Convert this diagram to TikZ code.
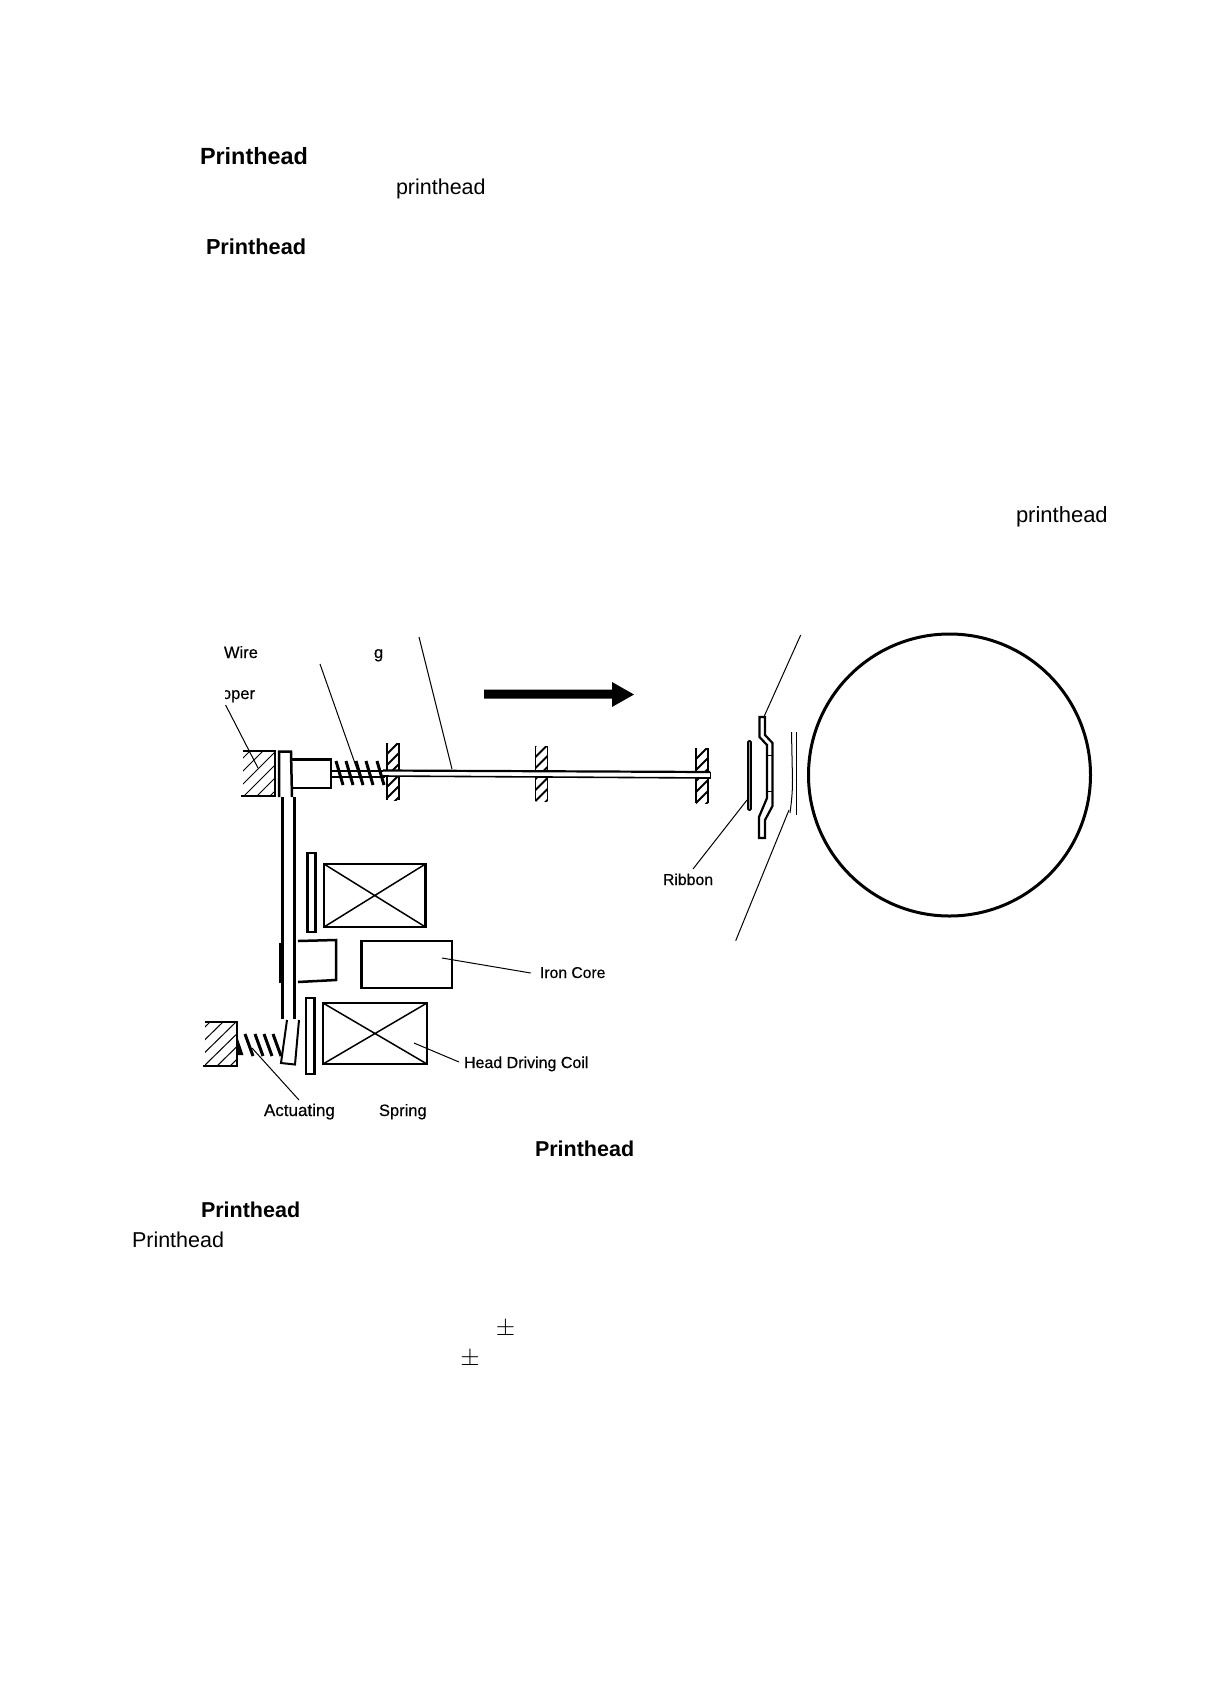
\documentclass[tikz,border=0pt]{standalone}
\usepackage{fontspec}
\setmainfont{Liberation Sans}
\newfontfamily\labfont[FakeBold=0.4]{Liberation Sans}
\tikzset{
  txt/.style={anchor=base west,inner sep=0pt,outer sep=0pt,font=\fontsize{21.5}{24}\selectfont},
  boldtxt/.style={txt,font=\fontsize{21.7}{24}\selectfont\bfseries},
  lab/.style={anchor=base west,inner sep=0pt,outer sep=0pt,font=\labfont\fontsize{16.5}{20}\selectfont},
  leader/.style={line width=1pt},
  thick part/.style={line width=2.5pt,line join=miter},
  thin part/.style={line width=1.5pt},
  hatch line/.style={line width=1pt},
}
\newcommand{\guidebar}[4]{% x1,x2,y1,y2
  \begin{scope}
    \clip (#1,#3) rectangle (#2,#4);
    \foreach \k in {-2,...,7} {
      \draw[line width=1.8pt] (#1-2,#3+\k*11+13) -- (#2+2,#3+\k*11-3);
    }
  \end{scope}
  \draw[line width=1.8pt] (#1,#3) -- (#1,#4) (#2,#3) -- (#2,#4);
}
\begin{document}
\begin{tikzpicture}[x=1pt,y=-1pt]
\useasboundingbox (0,0) rectangle (1210,1698);
\fill[white] (0,0) rectangle (1210,1698);

% page texts
\node[boldtxt,font=\fontsize{23.4}{26}\selectfont\bfseries] (t1) at (200,164) {Printhead};
\node[txt] (t2) at (396,194.5) {printhead};
\node[boldtxt] (t3) at (206,254) {Printhead};
\node[txt,font=\fontsize{22}{24}\selectfont] (t4) at (1016,522.5) {printhead};
\node[boldtxt,font=\fontsize{21.5}{24}\selectfont\bfseries] (t5) at (535,1156) {Printhead};
\node[boldtxt,font=\fontsize{21.5}{24}\selectfont\bfseries] (t6) at (201,1217) {Printhead};
\node[txt] (t7) at (132,1247) {Printhead};
\node[inner sep=0pt,font=\fontsize{24.88}{26}\selectfont] (pm1) at (505.5,1329) {$\pm$};
\node[inner sep=0pt,font=\fontsize{24.88}{26}\selectfont] (pm2) at (470,1359) {$\pm$};

% diagram labels
\node[lab] (wire) at (224,658) {Wire};
\node[lab] (gg) at (374,658) {g};
\begin{scope}
  \clip (225,680) rectangle (262,710);
  \node[lab] (oper) at (222,699) {oper};
\end{scope}
\node[lab,font=\labfont\fontsize{15.7}{20}\selectfont] (iron) at (540,978) {Iron Core};
\node[lab,font=\labfont\fontsize{16}{20}\selectfont] (coil) at (464,1068) {Head Driving Coil};
\node[lab,font=\labfont\fontsize{17}{20}\selectfont] (act) at (264,1116) {Actuating};
\node[lab] (spr) at (379,1116) {Spring};
\node[lab,font=\labfont\fontsize{15.8}{20}\selectfont] (rib) at (663,885) {Ribbon};

% motion arrow
\fill (484,689.5) -- (612,689.5) -- (612,682) -- (634,694.5) -- (612,707) -- (612,698.5) -- (484,698.5) -- cycle;

% upper stopper block
\begin{scope}
  \clip (243,751) rectangle (275,796);
  \foreach \k in {0,...,6} {
    \draw[hatch line] (205+\k*13,796) -- (250+\k*13,751);
  }
\end{scope}
\draw[thick part] (243,751) -- (275,751) -- (275,796) -- (241,796);

% armature head and hammer base
\draw[thick part] (279,797) -- (279,751.5) -- (291,751.5) -- (292,797);
\draw[thick part] (292,759.5) -- (331,759.5) -- (331,788) -- (292,788);

% guides
\guidebar{387}{399}{743}{800}
\guidebar{535.5}{547.5}{746}{801}
\guidebar{696}{708}{748}{803}

% wire spring
\foreach \xa in {336,346,356,366,377} {
  \draw[line width=3pt] (\xa,761) -- (\xa+7,785);
}
\draw[line width=1.6pt] (331,771) -- (385,771);
\draw[line width=1.6pt] (331,777) -- (385,777);

% wire
\fill[white] (383,771) -- (710,773) -- (710,778) -- (383,776) -- cycle;
\draw[line width=2.2pt] (383,770.5) -- (710,772);
\draw[line width=1.6pt] (383,776) -- (710,778);
\draw[line width=1.6pt] (710.5,771.5) -- (710.5,778.5);

% vertical arm
\draw[line width=3.4pt] (282.5,797) -- (282.5,1019);
\draw[line width=3.4pt] (294.5,797) -- (294.5,1019);
\fill (279,943) rectangle (281,983);
\draw[line width=2pt] (287,1020) -- (281,1063) -- (295,1064.5) -- (299,1020);

% armature tab
\draw[thick part] (298,941) -- (336,940) -- (336,980) -- (298,982);

% coils
\draw[thick part] (307.5,853) rectangle (315.5,932);
\draw[thick part] (324,864) rectangle (425.5,927);
\draw[thin part] (324,864) -- (425.5,927) (324,927) -- (425.5,864);
\draw[thick part] (361.5,941) rectangle (452,988);
\draw[thick part] (306,998) rectangle (314.5,1074);
\draw[thick part] (323,1003) rectangle (427,1064);
\draw[thin part] (323,1003) -- (427,1064) (323,1064) -- (427,1003);

% lower stopper
\begin{scope}
  \clip (205,1022) rectangle (237,1066);
  \foreach \k in {0,...,6} {
    \draw[hatch line] (165+\k*13,1066) -- (210+\k*13,1022);
  }
\end{scope}
\draw[thick part] (205,1022) -- (237,1022) -- (237,1066) -- (203,1066);

% actuating spring
\fill (237,1036) -- (243.5,1055) -- (237,1055) -- cycle;
\foreach \xa in {245,255,264,273} {
  \draw[line width=3pt] (\xa,1034) -- (\xa+8,1056);
}

% ribbon and hammer guide
\draw[line width=1.6pt,rounded corners=1pt,fill=gray!70] (748,741) rectangle (751,810);
\draw[line width=2.2pt,line join=miter]
  (759.5,717) -- (759.5,737) -- (767,745) -- (767,798) -- (759,817) -- (759,838)
  -- (765,838) -- (765,820) -- (772.5,806) -- (772.5,743) -- (765,735) -- (765,717) -- cycle;
\draw[line width=0.8pt] (767,755) -- (772.5,755) (767,791) -- (772.5,791);

% paper
\draw[line width=1pt] (791.5,732) -- (792.5,780) .. controls (792.5,795) and (791,805) .. (790,813);
\draw[line width=1pt] (796.7,732) -- (796.7,815);

% platen
\draw[line width=3pt] (949.5,775) circle (141);

% leaders
\coordinate (l1a) at (419,637); \coordinate (l1b) at (452,769);
\coordinate (l2a) at (320,664); \coordinate (l2b) at (362.6,785);
\coordinate (l3a) at (225.6,705); \coordinate (l3b) at (258,768);
\coordinate (l4a) at (800.7,635); \coordinate (l4b) at (764,716.7);
\coordinate (l5a) at (747,800); \coordinate (l5b) at (693,869);
\coordinate (l6a) at (789,810); \coordinate (l6b) at (735.7,940.7);
\coordinate (l7a) at (442,958); \coordinate (l7b) at (530.7,973);
\coordinate (l8a) at (414,1043); \coordinate (l8b) at (459,1062);
\coordinate (l9a) at (252,1048); \coordinate (l9b) at (299,1100);
\foreach \a/\b in {l1a/l1b,l2a/l2b,l3a/l3b,l4a/l4b,l5a/l5b,l6a/l6b,l7a/l7b,l8a/l8b,l9a/l9b} {
  \draw[leader] (\a) -- (\b);
}
\end{tikzpicture}
\end{document}
